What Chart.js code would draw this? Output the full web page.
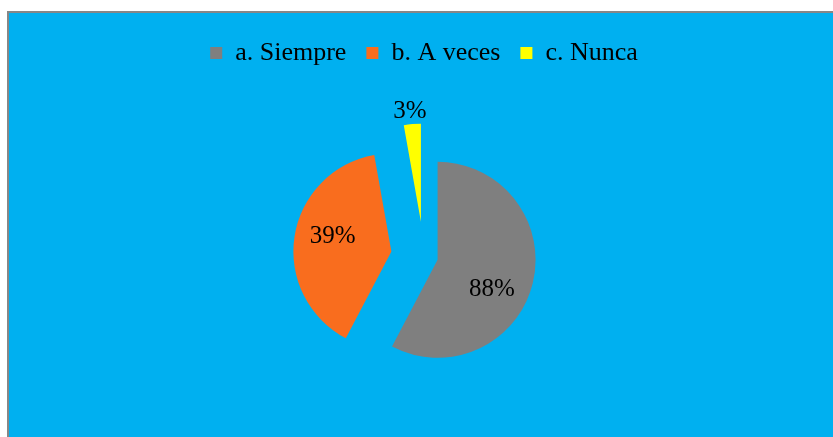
<!DOCTYPE html>
<html>
<head>
<meta charset="utf-8">
<script src="https://cdn.jsdelivr.net/npm/chart.js@4"></script>
<style>
  body { margin: 0; background: #fff; }
  #frame {
    position: absolute; left: 7px; top: 11px; width: 826px; height: 426px;
    box-sizing: border-box; background: #00b0f0;
    border-top: 2px solid #878787; border-left: 2px solid #878787;
  }
</style>
</head>
<body>
<div id="frame"><canvas id="freqChart" width="824" height="424"></canvas></div>
<script>
const categories = ['a. Siempre', 'b. A veces', 'c. Nunca'];
const values = [57.7, 39.5, 2.8];          // share of the circle as drawn
const valueLabels = ['88%', '39%', '3%'];  // text printed on the slices
const colors = ['#7f7f7f', '#f96d1e', '#ffff00'];

const explode = [14, 33, 35]; // how far each slice is pulled out (px)
const labelAt = [[0.57, 0.63], [0.54, 0.62], [0.43, 1.13]]; // [angle fraction, radius fraction]

function shiftFor(arc, i) {
  const mid = (arc.startAngle + arc.endAngle) / 2;
  return { dx: Math.cos(mid) * explode[i], dy: Math.sin(mid) * explode[i] };
}

// pull slices out without chart.js growing the radius like `offset` does
const explodePlugin = {
  id: 'explode',
  beforeDatasetDraw(chart, args) {
    args.meta.data.forEach((arc, i) => {
      if (arc._exploded) return;
      arc._exploded = true;
      const base = arc.draw;
      arc.draw = function (ctx, area) {
        const s = shiftFor(this, i);
        ctx.save();
        ctx.translate(s.dx, s.dy);
        base.call(this, ctx, area);
        ctx.restore();
      };
    });
  }
};

const labelPlugin = {
  id: 'sliceLabels',
  afterDatasetsDraw(chart) {
    const ctx = chart.ctx;
    const arcs = chart.getDatasetMeta(0).data;
    ctx.save();
    ctx.font = '25px "Liberation Serif"';
    ctx.fillStyle = '#000';
    ctx.textAlign = 'center';
    ctx.textBaseline = 'middle';
    arcs.forEach((arc, i) => {
      const s = shiftFor(arc, i);
      const [t, rf] = labelAt[i];
      const a = arc.startAngle + (arc.endAngle - arc.startAngle) * t;
      const r = arc.outerRadius * rf;
      ctx.fillText(valueLabels[i], arc.x + s.dx + Math.cos(a) * r, arc.y + s.dy + Math.sin(a) * r);
    });
    ctx.restore();
  }
};

const ctx = document.getElementById('freqChart').getContext('2d');

const freqChart = new Chart(ctx, {
  type: 'pie',
  data: {
    labels: categories,
    datasets: [{
      data: values,
      backgroundColor: colors,
      borderWidth: 0
    }]
  },
  options: {
    responsive: false,
    animation: false,
    radius: 98,
    layout: {
      padding: { left: 6, right: 0, top: 7, bottom: -2 }
    },
    plugins: {
      legend: {
        position: 'top',
        labels: {
          boxWidth: 12,
          boxHeight: 12,
          padding: 20,
          color: '#000',
          font: { family: 'Liberation Serif', size: 26 }
        }
      },
      tooltip: { enabled: false }
    }
  },
  plugins: [explodePlugin, labelPlugin]
});
</script>
</body>
</html>
